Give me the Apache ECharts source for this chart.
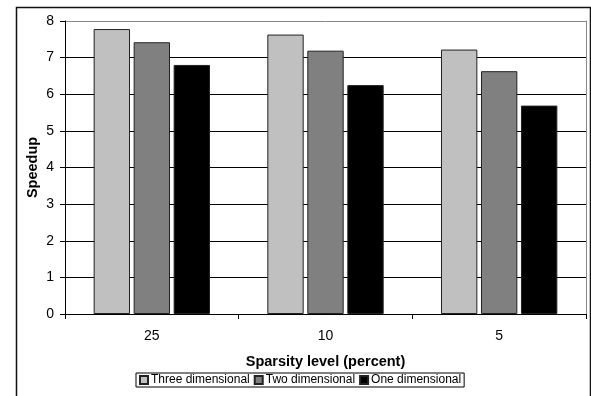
<!DOCTYPE html>
<html>
<head>
<meta charset="utf-8">
<script src="https://cdn.jsdelivr.net/npm/echarts@6/dist/echarts.min.js"></script>
<style>
html,body{margin:0;padding:0;background:#fff;}
#chart{width:591px;height:396px;}
</style>
</head>
<body>
<div id="chart"></div>
<script>
var categories = ['25', '10', '5'];
var threeDim = [7.78, 7.63, 7.22];
var twoDim = [7.42, 7.19, 6.63];
var oneDim = [6.80, 6.25, 5.69];
var seriesNames = ['Three dimensional', 'Two dimensional', 'One dimensional'];
var seriesColors = ['#c0c0c0', '#808080', '#000000'];

var chart = echarts.init(document.getElementById('chart'), null, {renderer: 'canvas'});
var font = 'Liberation Sans, Arial, sans-serif';
var gridColors = ['#000','#000','#000','#000','#000','#000','#000','#000','#888'];

function bar(name, data, color) {
  return {
    name: name,
    type: 'bar',
    data: data,
    barGap: '10%',
    barCategoryGap: '33%',
    itemStyle: {color: color, borderColor: '#222', borderWidth: 1},
    emphasis: {disabled: true},
    animation: false
  };
}

chart.setOption({
  animation: false,
  backgroundColor: '#fff',
  textStyle: {fontFamily: font},
  graphic: [{
    type: 'rect',
    left: 14, top: 5,
    shape: {width: 574, height: 430},
    style: {fill: 'none', stroke: '#111', lineWidth: 1.5},
    silent: true, z: 100
  }],
  grid: {left: 65, right: 5, top: 21, bottom: 82, containLabel: false},
  legend: {
    data: seriesNames,
    top: 373,
    left: 136,
    itemWidth: 8,
    itemHeight: 8,
    itemGap: 4,
    icon: 'rect',
    borderColor: '#000',
    borderWidth: 1,
    padding: [1, 3, 1, 3],
    textStyle: {fontFamily: font, fontSize: 12, color: '#000', padding: [0, 0, 0, -2]}
  },
  xAxis: {
    type: 'category',
    data: categories,
    name: 'Sparsity level (percent)',
    nameLocation: 'middle',
    nameGap: 40,
    nameMoveOverlap: false,
    nameTextStyle: {fontFamily: font, fontSize: 14.5, fontWeight: 'bold', color: '#000'},
    axisLine: {lineStyle: {color: '#000', width: 1}},
    axisTick: {show: true, length: 5, inside: false, lineStyle: {color: '#000'}},
    axisLabel: {fontFamily: font, fontSize: 14, color: '#000', margin: 15}
  },
  yAxis: [{
    type: 'value',
    min: 0, max: 8, interval: 1,
    name: 'Speedup',
    nameLocation: 'middle',
    nameGap: 25,
    nameRotate: 90,
    nameMoveOverlap: false,
    nameTextStyle: {fontFamily: font, fontSize: 14.5, fontWeight: 'bold', color: '#000'},
    axisLine: {show: true, lineStyle: {color: '#000', width: 1}},
    axisTick: {show: true, length: 5, lineStyle: {color: '#000'}},
    axisLabel: {fontFamily: font, fontSize: 14, color: '#000', margin: 11},
    splitLine: {show: true, lineStyle: {color: gridColors, width: 1}}
  }, {
    type: 'value',
    min: 0, max: 8, interval: 1,
    position: 'right',
    axisLine: {show: true, lineStyle: {color: '#888', width: 1}},
    axisTick: {show: false},
    axisLabel: {show: false},
    splitLine: {show: false}
  }],
  series: [
    bar(seriesNames[0], threeDim, seriesColors[0]),
    bar(seriesNames[1], twoDim, seriesColors[1]),
    bar(seriesNames[2], oneDim, seriesColors[2])
  ]
});
</script>
</body>
</html>
